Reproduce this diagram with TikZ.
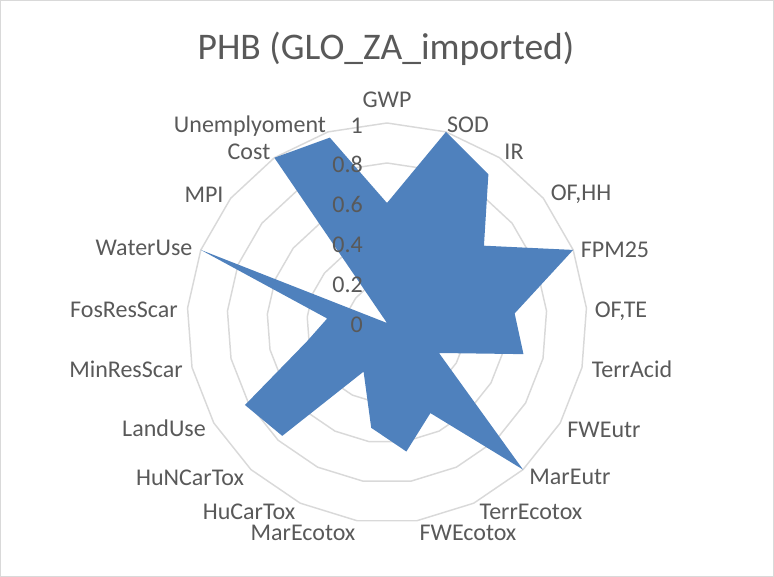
\documentclass[tikz,border=0pt]{standalone}
\usepackage{fontspec}
\setmainfont{Carlito}
\usepackage{tikz}
\definecolor{phbblue}{RGB}{79,129,189}
\definecolor{labelgray}{RGB}{89,89,89}
\definecolor{gridgray}{RGB}{217,217,217}
\tikzstyle{catlabel} = [font=\fontsize{18}{20}\selectfont, text=labelgray, inner sep=0pt, text height=11.6pt, text depth=0pt]
\tikzstyle{ticklabel} = [catlabel, anchor=east]
\tikzset{
  gridline/.style ={draw=gridgray, line width=1.1pt, line join=round},
  phbfill/.style ={fill=phbblue}
}

\begin{document}
\begin{tikzpicture}[x=0.75pt,y=0.75pt]
  \useasboundingbox (0,0) rectangle (774,577);
  \draw[gridgray, line width=0.9pt] (0.5,0.5) rectangle (773.5,576.5);

  \node[font=\fontsize{28.2}{31}\selectfont, text=labelgray, inner sep=0pt, text height=18.2pt, text depth=0pt] (title) at (386,530) {PHB (GLO\_ZA\_imported)};

  \begin{scope}[shift={(387,254)}]
    \coordinate (centre) at (0,0);
    \foreach \r in {40,80,...,200}
      \draw[gridline] (90:\r) \foreach \k in {1,...,20} { -- ({90-\k*360/21}:\r) } -- cycle;

    \fill[phbfill] (90:120) \foreach \v [count=\k] in {1,.9,.62,1,.64,.7,.3,1,.5,.65,.53,.27,.77,.82,.41,.3,1,0,1,.97}
      { -- ({90-\k*360/21}:{\v*200}) } -- cycle;

    \node[ticklabel] (tick0) at (-24,-2) {0};
    \node[ticklabel] (tick2) at (-24,38) {0.2};
    \node[ticklabel] (tick4) at (-24,78) {0.4};
    \node[ticklabel] (tick6) at (-24,118) {0.6};
    \node[ticklabel] (tick8) at (-24,158) {0.8};
    \node[ticklabel] (tick10) at (-24,197) {1};
  \end{scope}

  \node[catlabel] (gwp) at (387,477) {GWP};
  \node[catlabel] (sod) at (468,452) {SOD};
  \node[catlabel] (ir) at (514,425) {IR};
  \node[catlabel] (ofhh) at (581,384) {OF,HH};
  \node[catlabel] (fpm) at (615,327) {FPM25};
  \node[catlabel] (ofte) at (621,267) {OF,TE};
  \node[catlabel] (terracid) at (632,207) {TerrAcid};
  \node[catlabel] (fweutr) at (604,147) {FWEutr};
  \node[catlabel] (mareutr) at (570,100) {MarEutr};
  \node[catlabel] (terrecotox) at (531,65.5) {TerrEcotox};
  \node[catlabel] (fwecotox) at (468,44.5) {FWEcotox};
  \node[catlabel] (marecotox) at (303,44.5) {MarEcotox};
  \node[catlabel] (hucartox) at (249,65.5) {HuCarTox};
  \node[catlabel] (huncartox) at (190,99) {HuNCarTox};
  \node[catlabel] (landuse) at (164,148) {LandUse};
  \node[catlabel] (minres) at (126,207) {MinResScar};
  \node[catlabel] (fosres) at (124,267) {FosResScar};
  \node[catlabel] (wateruse) at (144,329) {WaterUse};
  \node[catlabel] (mpi) at (204,382) {MPI};
  \node[catlabel] (cost) at (249,425) {Cost};
  \node[catlabel] (unempl) at (250,452) {Unemplyoment};

\end{tikzpicture}
\end{document}
